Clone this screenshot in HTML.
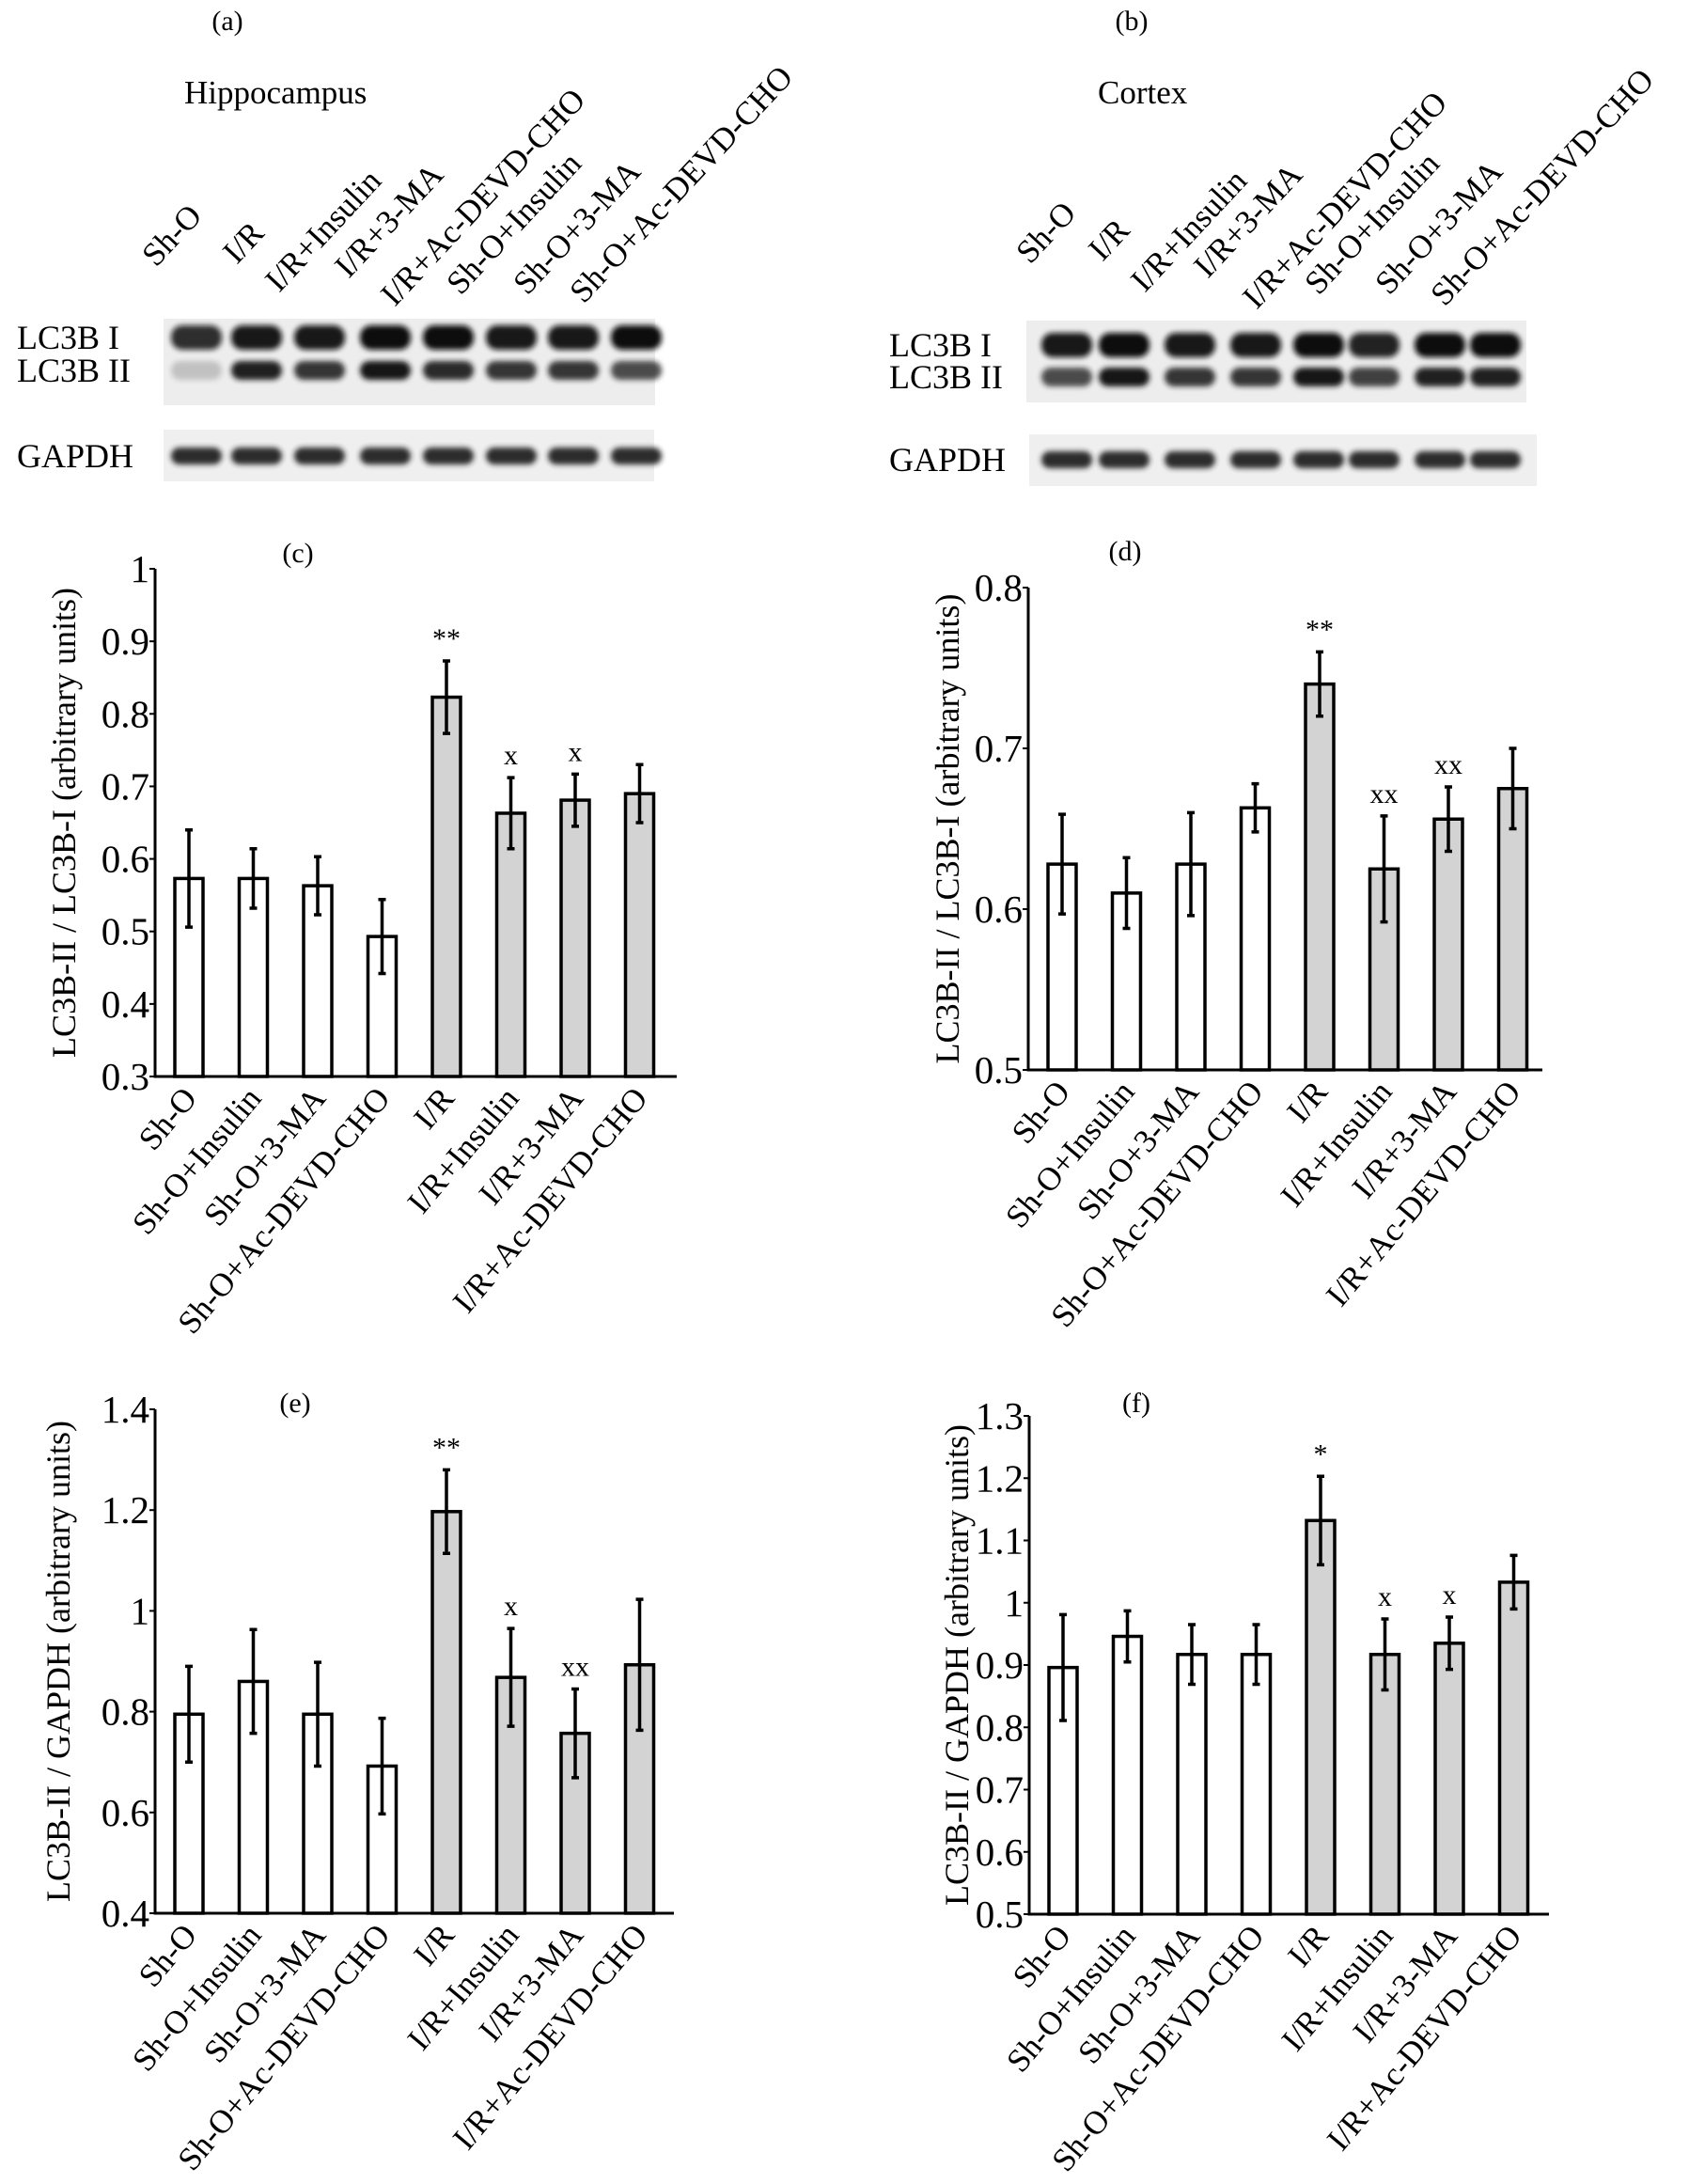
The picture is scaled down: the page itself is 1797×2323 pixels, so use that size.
<!DOCTYPE html>
<html><head><meta charset="utf-8"><style>
html,body{margin:0;padding:0;background:#fff;}
svg{display:block;font-family:"Liberation Serif",serif;}
</style></head><body>
<svg id="fig" width="1797" height="2323" viewBox="0 0 1797 2323" xmlns="http://www.w3.org/2000/svg">
<defs><filter id="blur" x="-20%" y="-50%" width="140%" height="200%"><feGaussianBlur stdDeviation="3"/></filter></defs>
</svg>
<script>
const NS='http://www.w3.org/2000/svg';
const svg=document.getElementById('fig');

// ---- chart data ----
const categories=['Sh-O','Sh-O+Insulin','Sh-O+3-MA','Sh-O+Ac-DEVD-CHO','I/R','I/R+Insulin','I/R+3-MA','I/R+Ac-DEVD-CHO'];
const blotLanes=['Sh-O','I/R','I/R+Insulin','I/R+3-MA','I/R+Ac-DEVD-CHO','Sh-O+Insulin','Sh-O+3-MA','Sh-O+Ac-DEVD-CHO'];
const cValues=[0.573,0.573,0.563,0.493,0.823,0.663,0.681,0.690];
const cErrors=[0.067,0.041,0.040,0.051,0.050,0.049,0.036,0.040];
const cMarks=['','','','','**','x','x',''];
const cTicks=[0.3,0.4,0.5,0.6,0.7,0.8,0.9,1];
const dValues=[0.628,0.610,0.628,0.663,0.740,0.625,0.656,0.675];
const dErrors=[0.031,0.022,0.032,0.015,0.020,0.033,0.020,0.025];
const dMarks=['','','','','**','xx','xx',''];
const dTicks=[0.5,0.6,0.7,0.8];
const eValues=[0.795,0.860,0.795,0.692,1.197,0.868,0.757,0.893];
const eErrors=[0.095,0.103,0.103,0.095,0.083,0.097,0.088,0.130];
const eMarks=['','','','','**','x','xx',''];
const eTicks=[0.4,0.6,0.8,1,1.2,1.4];
const fValues=[0.896,0.946,0.917,0.917,1.132,0.917,0.935,1.033];
const fErrors=[0.085,0.041,0.048,0.048,0.071,0.057,0.042,0.043];
const fMarks=['','','','','*','x','x',''];
const fTicks=[0.5,0.6,0.7,0.8,0.9,1,1.1,1.2,1.3];

function el(tag,attrs,parent){const e=document.createElementNS(NS,tag);for(const k in attrs)e.setAttribute(k,attrs[k]);(parent||svg).appendChild(e);return e;}
function txt(s,attrs,parent){const t=el('text',attrs,parent);t.textContent=s;return t;}

// ---- blots ----
function blot(id,title,titleX,panelLabel,plX,labelX,box,gbox,lanes,labX,labY,i1,i2,g){
  const grp=el('g',{});
  
  
  let t=txt(panelLabel,{x:plX,y:32,'font-size':30,'text-anchor':'middle'},grp);
  
  t=txt(title,{x:titleX,y:110,'font-size':35},grp);
  
  el('rect',{x:box[0],y:box[1],width:box[2],height:box[3],fill:'#ededed'},grp);
  el('rect',{x:gbox[0],y:gbox[1],width:gbox[2],height:gbox[3],fill:'#efefef'},grp);
  lanes.forEach((x,i)=>{
    el('rect',{x:x-27,y:box[1]+i1[1]-13,width:54,height:26,rx:12,fill:'#111',filter:'url(#blur)',opacity:i1[2][i]},grp);
    el('rect',{x:x-27,y:box[1]+i2[1]-10,width:54,height:20,rx:10,fill:'#181818',filter:'url(#blur)',opacity:i2[2][i]},grp);
    el('rect',{x:x-27,y:gbox[1]+g-9,width:54,height:18,rx:9,fill:'#222',filter:'url(#blur)',opacity:0.95},grp);
    const lx=labX[i],ly=labY[i];
    const lt=txt(blotLanes[i],{x:lx,y:ly,'font-size':35,transform:`rotate(-47 ${lx} ${ly})`},grp);
    
  });
  t=txt('LC3B I',{x:labelX,y:box[1]+i1[1]+12,'font-size':36},grp);
  t=txt('LC3B II',{x:labelX,y:box[1]+i2[1]+12,'font-size':36},grp);
  t=txt('GAPDH',{x:labelX,y:gbox[1]+g+12,'font-size':36},grp);
}
blot('a','Hippocampus',196,'(a)',242,18,[174,339,523,92],[174,457,522,55],[209,273,340,410,477,544,610,677],
  [166,252,297,371,420,490,561,621],[285,282,312,297,327,315,315,324],
  [0,20,[0.85,0.95,0.95,1,1,0.95,0.95,1]],[0,55,[0.2,0.95,0.85,1,0.9,0.85,0.85,0.75]],28);
blot('b','Cortex',1168,'(b)',1204,946,[1092,341,532,87],[1095,462,540,55],[1135,1196,1266,1336,1403,1462,1532,1591],
  [1096,1173,1218,1285,1337,1403,1478,1537],[282,279,312,297,330,315,315,327],
  [0,26,[0.95,1,0.95,0.95,1,0.9,1,1]],[0,60,[0.75,1,0.85,0.85,1,0.8,0.95,0.95]],27);

// ---- bar charts ----
function chart(id,panel,px,py,x0,xEnd,yTop,yBot,ticks,values,errors,marks,ylabel,ylx){
  const g=el('g',{});
  
  
  const lo=ticks[0],hi=ticks[ticks.length-1];
  const yS=v=>yBot-(v-lo)/(hi-lo)*(yBot-yTop);
  const xS=i=>x0+36+i*68.5;
  let t=txt(panel,{x:px,y:py,'font-size':30,'text-anchor':'middle'},g);
  
  values.forEach((v,i)=>{
    const b=el('rect',{x:xS(i)-15,y:yS(v),width:30,height:yBot-yS(v),fill:i>=4?'#d3d3d3':'#fff',stroke:'#000','stroke-width':3.5},g);
    
    const e1=yS(v+errors[i]),e2=yS(v-errors[i]);
    const eb=el('path',{d:`M${xS(i)} ${e1}V${e2}M${xS(i)-4} ${e1}H${xS(i)+4}M${xS(i)-4} ${e2}H${xS(i)+4}`,stroke:'#000','stroke-width':3.5,fill:'none'},g);
    
    if(marks[i]){const m=txt(marks[i],{x:xS(i),y:e1-14,'font-size':30,'text-anchor':'middle'},g);}
    const lx=xS(i)+10,ly=yBot+24;
    const lt=txt(categories[i],{x:lx,y:ly,'font-size':35,'text-anchor':'end',transform:`rotate(-50 ${lx} ${ly})`},g);
    
  });
  const ax=el('path',{d:`M${x0} ${yTop}V${yBot}H${xEnd}`,stroke:'#000','stroke-width':3,fill:'none'},g);
  
  ticks.forEach(v=>{
    el('line',{x1:x0-6,x2:x0,y1:yS(v),y2:yS(v),stroke:'#000','stroke-width':2},g);
    const tl=txt(String(v),{x:x0-6,y:yS(v)+14,'font-size':41,'text-anchor':'end'},g);
    
  });
  const ym=(yTop+yBot)/2;
  t=txt(ylabel,{x:ylx,y:ym,'font-size':36,'text-anchor':'middle',transform:`rotate(-90 ${ylx} ${ym})`},g);
  
}
chart('c','(c)',317,598,165,720,605,1145,cTicks,cValues,cErrors,cMarks,'LC3B-II / LC3B-I (arbitrary units)',80);
chart('d','(d)',1197,596,1094,1641,625,1138,dTicks,dValues,dErrors,dMarks,'LC3B-II / LC3B-I (arbitrary units)',1020);
chart('e','(e)',314,1502,165,717,1499,2035,eTicks,eValues,eErrors,eMarks,'LC3B-II / GAPDH (arbitrary units)',74);
chart('f','(f)',1209,1502,1095,1648,1506,2036,fTicks,fValues,fErrors,fMarks,'LC3B-II / GAPDH (arbitrary units)',1030);
</script>
</body></html>
